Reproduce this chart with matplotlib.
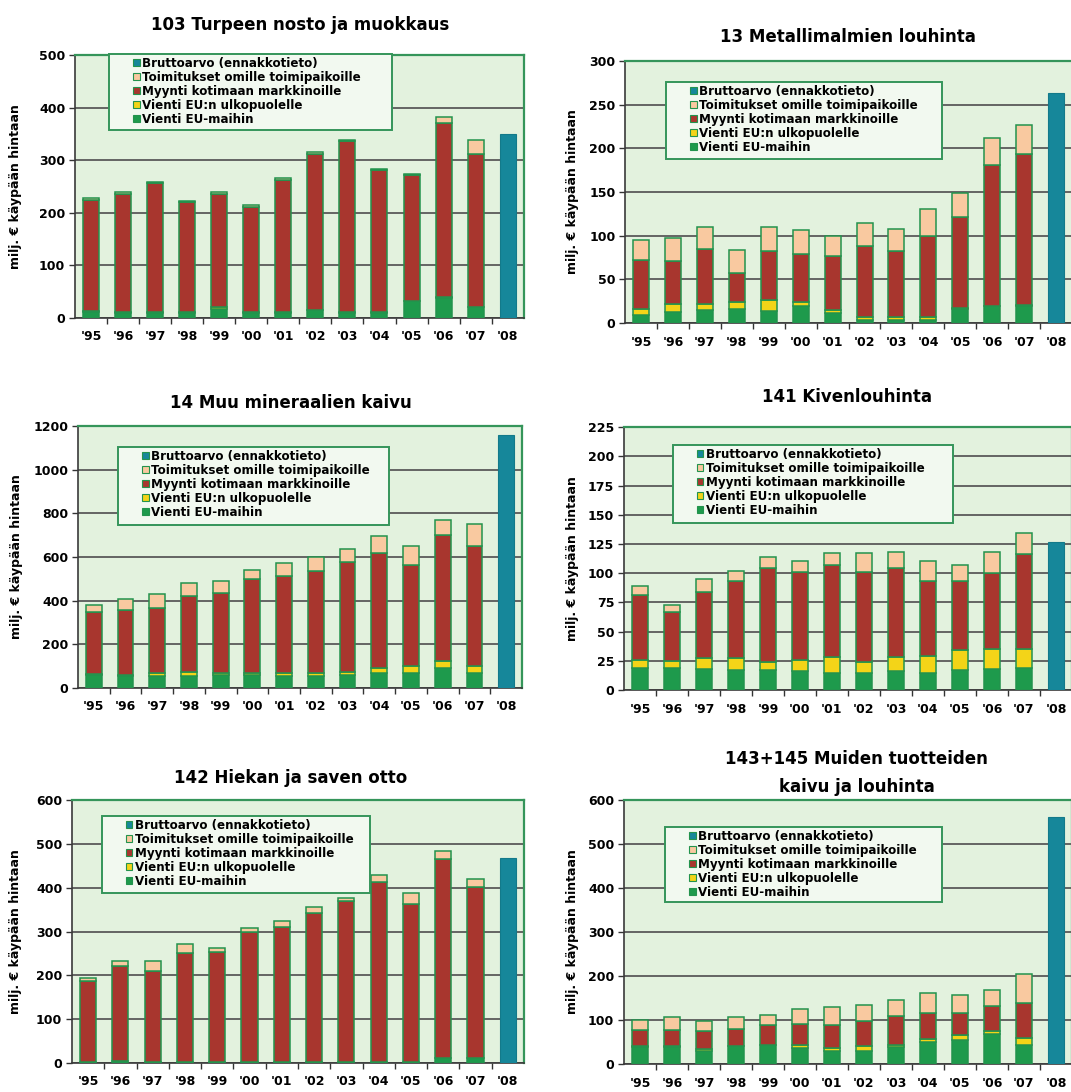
import matplotlib.pyplot as plt
from matplotlib.patches import Patch, Rectangle
from matplotlib.transforms import offset_copy

years = ["'95", "'96", "'97", "'98", "'99", "'00", "'01", "'02", "'03",
         "'04", "'05", "'06", "'07", "'08"]

# 103 Turpeen nosto ja muokkaus (1995-2007 components, 2008 gross value)
peat_eu = [12, 10, 10, 10, 18, 10, 10, 15, 10, 10, 32, 38, 20]
peat_non_eu = [2, 1, 1, 1, 2, 1, 1, 1, 1, 1, 1, 1, 1]
peat_domestic = [211, 225, 245, 209, 216, 200, 252, 295, 325, 270, 238, 331, 290]
peat_own = [3, 3, 3, 3, 3, 3, 3, 4, 3, 3, 3, 12, 28]
peat_gross = 350

# 13 Metallimalmien louhinta
metal_eu = [9, 13, 15, 16, 14, 19, 11, 4, 4, 4, 16, 19, 20]
metal_non_eu = [7, 9, 7, 8, 12, 5, 4, 3, 3, 3, 1, 1, 1]
metal_domestic = [56, 49, 63, 33, 57, 55, 62, 81, 76, 93, 104, 161, 172]
metal_own = [23, 26, 25, 27, 27, 27, 23, 26, 25, 30, 28, 31, 34]
metal_gross = 263

# 14 Muu mineraalien kaivu
mineral_eu = [60, 55, 53, 53, 61, 61, 53, 56, 61, 69, 69, 91, 69]
mineral_non_eu = [3, 3, 16, 19, 8, 8, 16, 13, 11, 22, 30, 31, 30]
mineral_domestic = [287, 300, 297, 347, 365, 429, 445, 469, 507, 526, 465, 579, 549]
mineral_own = [31, 50, 64, 61, 57, 43, 58, 60, 58, 81, 84, 69, 103]
mineral_gross = 1159

# 141 Kivenlouhinta
stone_eu = [19, 19, 18, 17, 17, 16, 15, 15, 16, 15, 17, 18, 19]
stone_non_eu = [7, 6, 9, 10, 7, 10, 13, 9, 12, 14, 17, 17, 16]
stone_domestic = [55, 42, 57, 66, 80, 75, 79, 77, 76, 64, 59, 65, 81]
stone_own = [8, 6, 11, 9, 10, 9, 10, 16, 14, 17, 14, 18, 18]
stone_gross = 127

# 142 Hiekan ja saven otto
sand_eu = [2, 5, 3, 3, 3, 3, 3, 3, 3, 3, 3, 12, 12]
sand_non_eu = [0, 0, 0, 0, 0, 0, 0, 0, 0, 0, 0, 0, 0]
sand_domestic = [185, 217, 206, 249, 250, 297, 308, 339, 367, 411, 359, 453, 390]
sand_own = [7, 11, 24, 19, 10, 9, 13, 13, 6, 15, 27, 19, 18]
sand_gross = 468

# 143+145 Muiden tuotteiden kaivu ja louhinta
other_eu = [38, 38, 30, 40, 43, 36, 30, 29, 38, 51, 55, 68, 44]
other_non_eu = [2, 2, 3, 1, 1, 8, 6, 11, 6, 6, 12, 8, 15]
other_domestic = [38, 38, 43, 39, 45, 47, 53, 57, 64, 59, 49, 55, 79]
other_own = [22, 28, 22, 26, 23, 34, 40, 36, 38, 45, 40, 38, 67]
other_gross = 562

labels = ["Bruttoarvo (ennakkotieto)", "Toimitukset omille toimipaikoille",
          "Myynti kotimaan markkinoille", "Vienti EU:n ulkopuolelle",
          "Vienti EU-maihin"]

C_EU = "#1e9a4c"
C_NON = "#f3d418"
C_DOM = "#a8362e"
C_OWN = "#f9c9a0"
C_GROSS = "#16879a"
EDGE = "#23934d"
BG = "#e3f2de"
FRAME = "#35955a"

plt.rcParams["font.family"] = "DejaVu Sans"
plt.rcParams["font.weight"] = "bold"

fig = plt.figure(figsize=(10.71, 10.92), dpi=100)

panels = [
    # title, series, gross, ylim, ystep, axes rect, title xy, ylabel x, legend box
    ("103 Turpeen nosto ja muokkaus", (peat_eu, peat_non_eu, peat_domestic, peat_own),
     peat_gross, 500, 100, [0.070, 0.7088, 0.419, 0.2408], (0.280, 0.977), -0.118,
     (0.0757, 0.715, 0.706, 1.005)),
    ("13 Metallimalmien louhinta", (metal_eu, metal_non_eu, metal_domestic, metal_own),
     metal_gross, 300, 50, [0.5836, 0.7042, 0.4174, 0.2399], (0.792, 0.966), -0.102,
     (0.0917, 0.626, 0.709, 0.920)),
    ("14 Muu mineraalien kaivu", (mineral_eu, mineral_non_eu, mineral_domestic, mineral_own),
     mineral_gross, 1200, 200, [0.0728, 0.370, 0.4146, 0.2399], (0.272, 0.631), -0.124,
     (0.090, 0.622, 0.700, 0.920)),
    ("141 Kivenlouhinta", (stone_eu, stone_non_eu, stone_domestic, stone_own),
     stone_gross, 225, 25, [0.5826, 0.3681, 0.4183, 0.2408], (0.791, 0.636), -0.100,
     (0.109, 0.635, 0.734, 0.932)),
    ("142 Hiekan ja saven otto", (sand_eu, sand_non_eu, sand_domestic, sand_own),
     sand_gross, 600, 100, [0.0672, 0.02656, 0.422, 0.2408], (0.271, 0.288), -0.110,
     (0.066, 0.646, 0.659, 0.939)),
    ("143+145 Muiden tuotteiden\nkaivu ja louhinta", (other_eu, other_non_eu, other_domestic, other_own),
     other_gross, 600, 100, [0.5826, 0.02564, 0.4183, 0.2418], (0.800, 0.292), -0.100,
     (0.0915, 0.614, 0.710, 0.898)),
]

x = list(range(len(years)))
width = 0.5

for title, (eu, non_eu, dom, own), gross, ymax, ystep, rect, (tx, ty), ylx, lbox in panels:
    ax = fig.add_axes(rect)
    ax.set_facecolor(BG)
    xs = x[:-1]
    b1 = [a + b for a, b in zip(eu, non_eu)]
    b2 = [a + b for a, b in zip(b1, dom)]
    kw = dict(width=width, edgecolor=EDGE, linewidth=1.1, zorder=3)
    ax.bar(xs, eu, color=C_EU, **kw)
    ax.bar(xs, non_eu, bottom=eu, color=C_NON, **kw)
    ax.bar(xs, dom, bottom=b1, color=C_DOM, **kw)
    ax.bar(xs, own, bottom=b2, color=C_OWN, **kw)
    ax.bar([x[-1]], [gross], width=width, color=C_GROSS, edgecolor="#137a8a",
           linewidth=0.8, zorder=3)

    ax.set_xlim(-0.5, len(years) - 0.5)
    ax.set_ylim(0, ymax)
    ax.set_yticks(range(0, ymax + 1, ystep))
    ax.set_xticks(x)
    ax.set_xticklabels(years)
    ax.set_xticks([i + 0.5 for i in x[:-1]], minor=True)
    ax.tick_params(axis="x", which="major", length=0, pad=9, labelsize=9)
    ax.tick_params(axis="x", which="minor", length=4, width=1, color="#333333",
                   direction="out")
    ax.tick_params(axis="y", length=4, width=1, color="#333333", labelsize=9, pad=3)
    for lab in ax.get_xticklabels() + ax.get_yticklabels():
        lab.set_fontweight("bold")

    ax.grid(axis="y", color="#5a5a5a", linewidth=1.3, zorder=1)
    ax.set_axisbelow(True)
    for side in ("top", "right"):
        ax.spines[side].set_color(FRAME)
        ax.spines[side].set_linewidth(1.6)
    for side in ("left", "bottom"):
        ax.spines[side].set_color("#3a3a3a")
        ax.spines[side].set_linewidth(1.2)

    ax.set_ylabel("milj. € käypään hintaan", fontsize=9, fontweight="bold")
    ax.yaxis.set_label_coords(ylx, 0.5)

    fig.text(tx, ty, title, ha="center", va="center", fontsize=12,
             fontweight="bold", linespacing=1.7)

    # legend box with its own frame, drawn over the grid
    x0, y0, x1, y1 = lbox
    ax.add_patch(Rectangle((x0, y0), x1 - x0, y1 - y0, transform=ax.transAxes,
                           facecolor="#f2f9f0", edgecolor=FRAME, linewidth=1.4,
                           zorder=5, clip_on=False))
    handles = [Patch(facecolor=c, edgecolor=EDGE, linewidth=0.8)
               for c in (C_GROSS, C_OWN, C_DOM, C_NON, C_EU)]
    leg = ax.legend(handles, labels, loc="upper left", bbox_to_anchor=(x0, y1),
                    bbox_transform=offset_copy(ax.transAxes, fig=fig, x=24, y=-3,
                                               units="dots"),
                    frameon=False, borderpad=0, borderaxespad=0,
                    handlelength=0.55, handleheight=0.55, handletextpad=0.2,
                    labelspacing=0.08, prop={"size": 8.6, "weight": "bold"})
    leg.set_zorder(6)

fig.savefig("out.png", dpi=100)
